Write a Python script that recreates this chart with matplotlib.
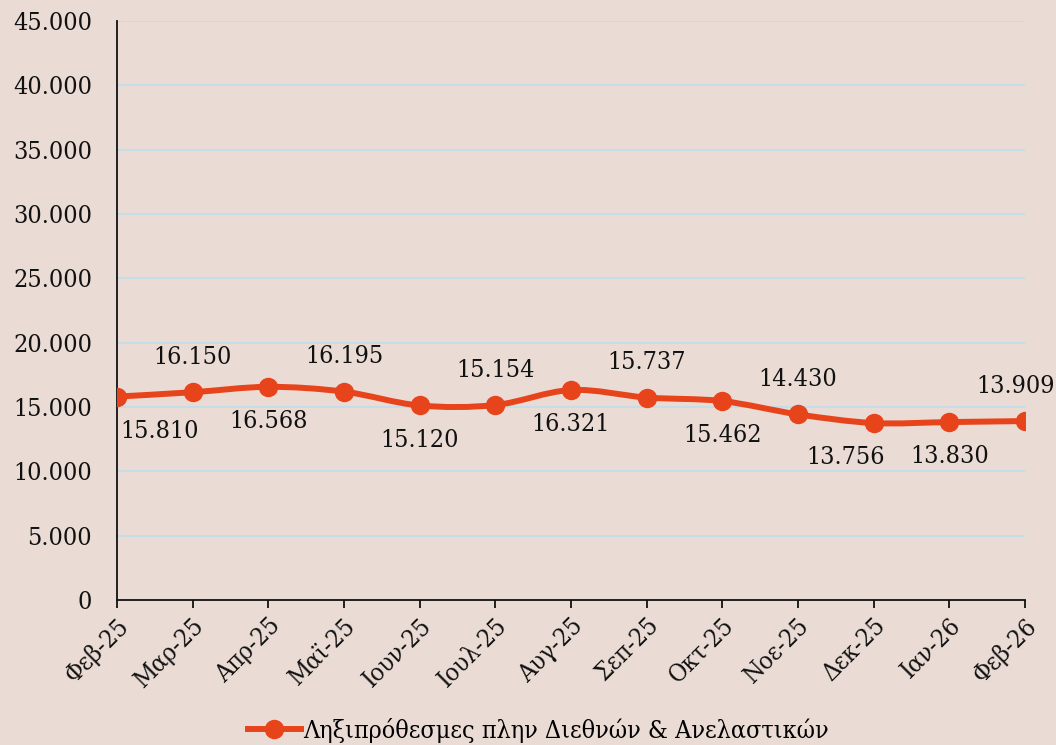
import numpy as np
import matplotlib
matplotlib.use("Agg")
import matplotlib.pyplot as plt
from matplotlib.path import Path
from matplotlib.patches import PathPatch
from matplotlib.lines import Line2D
from matplotlib.ticker import FuncFormatter

months = ["Φεβ-25", "Μαρ-25", "Απρ-25", "Μαϊ-25", "Ιουν-25", "Ιουλ-25", "Αυγ-25",
          "Σεπ-25", "Οκτ-25", "Νοε-25", "Δεκ-25", "Ιαν-26", "Φεβ-26"]
values = [15810, 16150, 16568, 16195, 15120, 15154, 16321,
          15737, 15462, 14430, 13756, 13830, 13909]
series_name = "Ληξιπρόθεσμες πλην Διεθνών & Ανελαστικών"

# label side for each point: +1 above, -1 below
label_side = [-1, 1, -1, 1, -1, 1, -1, 1, -1, 1, -1, -1, 1]
# horizontal nudges (points) for crowded / edge labels
label_nudge = {0: 31, 10: -20, 12: -7}

BG = "#EADCD5"
LINE = "#E8441C"
GRID = "#C6DCE8"

plt.rcParams["font.family"] = ["DejaVu Serif"]
plt.rcParams["font.stretch"] = "condensed"
plt.rcParams["font.size"] = 18


def smooth_path(x, y):
    """Catmull-Rom style bezier path through the points (like Excel smoothing)."""
    pts = np.column_stack([x, y]).astype(float)
    n = len(pts)
    verts = [pts[0]]
    codes = [Path.MOVETO]
    for i in range(n - 1):
        p0 = pts[i - 1] if i > 0 else pts[i]
        p1 = pts[i]
        p2 = pts[i + 1]
        p3 = pts[i + 2] if i + 2 < n else pts[i + 1]
        c1 = p1 + (p2 - p0) / 6.0
        c2 = p2 - (p3 - p1) / 6.0
        verts += [c1, c2, p2]
        codes += [Path.CURVE4] * 3
    return Path(verts, codes)


fig = plt.figure(figsize=(10.56, 7.45), dpi=100, facecolor=BG)
ax = fig.add_axes([0.1108, 0.1946, 0.8598, 0.7772])
ax.set_facecolor(BG)

x = np.arange(len(months))
ax.add_patch(PathPatch(smooth_path(x, values), facecolor="none", edgecolor=LINE,
                       lw=4.3, capstyle="round", joinstyle="round", zorder=3))
ax.plot(x, values, ls="none", marker="o", ms=13, color=LINE, zorder=4)

for i, (xi, v) in enumerate(zip(x, values)):
    ax.annotate(f"{v:,}".replace(",", "."), (xi, v),
                xytext=(label_nudge.get(i, 0), 25 * label_side[i]),
                textcoords="offset points",
                ha="center", va="center", color="#111111", zorder=5)

ax.set_xlim(0, len(months) - 1)
ax.set_ylim(0, 45000)
ax.set_yticks(np.arange(0, 45001, 5000))
ax.yaxis.set_major_formatter(FuncFormatter(lambda v, p: f"{int(v):,}".replace(",", ".")))
ax.set_xticks(x)
ax.set_xticklabels(months, rotation=45, ha="right", rotation_mode="anchor")

ax.grid(axis="y", color=GRID, lw=1.5)
ax.set_axisbelow(True)
for s in ["top", "right"]:
    ax.spines[s].set_visible(False)
ax.spines["left"].set_color("#111111")
ax.spines["bottom"].set_color("#111111")
ax.spines["left"].set_linewidth(1.3)
ax.spines["bottom"].set_linewidth(1.3)
ax.tick_params(axis="y", length=0, pad=18, colors="#111111")
ax.tick_params(axis="x", length=6, width=1.3, direction="out", pad=4, colors="#111111")

handle = Line2D([], [], color=LINE, lw=4.3, marker="o", ms=13)
fig.legend([handle], [series_name], loc="center", bbox_to_anchor=(0.51, 0.02),
           frameon=False, handlelength=2.1, handletextpad=0.1)

fig.savefig("out.png", dpi=100, facecolor=BG)
